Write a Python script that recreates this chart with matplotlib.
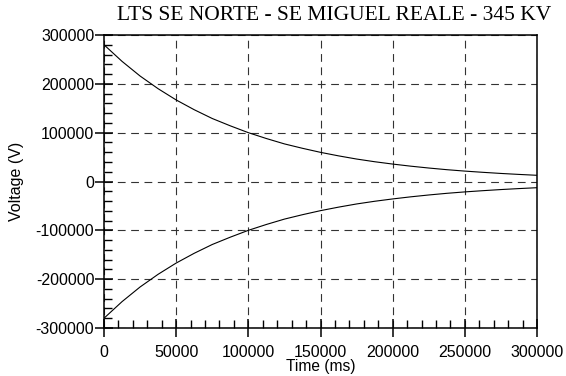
import numpy as np
import matplotlib.pyplot as plt
from matplotlib.ticker import MultipleLocator

# Time samples (ms) and voltage (V)
time_ms = [0, 12500, 25000, 37500, 50000, 62500, 75000, 87500, 100000,
           112500, 125000, 137500, 150000, 162500, 175000, 187500, 200000,
           212500, 225000, 237500, 250000, 262500, 275000, 287500, 300000]
v_upper = [280000, 246000, 216000, 190000, 167000, 147000, 129000, 114000, 100000,
           88000, 77000, 68000, 59700, 52500, 46000, 40500, 35700,
           31400, 27600, 24200, 21300, 18800, 16500, 14500, 12700]
v_lower = [-v for v in v_upper]

title = "LTS SE NORTE - SE MIGUEL REALE - 345 KV"

plt.rcParams['axes.unicode_minus'] = False

fig = plt.figure(figsize=(5.66, 3.76), dpi=100)
fig.patch.set_facecolor('white')
ax = fig.add_axes([104 / 566, 1 - 328 / 376, 433 / 566, 293 / 376])

ax.plot(time_ms, v_upper, color='black', lw=0.8)
ax.plot(time_ms, v_lower, color='black', lw=0.8)

ax.set_xlim(0, 300000)
ax.set_ylim(-300000, 300000)
ax.xaxis.set_major_locator(MultipleLocator(50000))
ax.xaxis.set_minor_locator(MultipleLocator(10000))
ax.yaxis.set_major_locator(MultipleLocator(100000))
ax.yaxis.set_minor_locator(MultipleLocator(20000))

ax.grid(True, which='major', color='#333333', ls=(0, (7, 5)), lw=0.8)

for s in ax.spines.values():
    s.set_linewidth(1.1)

ax.tick_params(which='major', direction='inout', length=13, width=1.1,
               labelsize=11.5)
ax.tick_params(axis='x', which='major', pad=6)
ax.tick_params(axis='y', which='major', pad=0.5)
ax.tick_params(which='minor', direction='in', length=5.5, width=1.0)
ax.tick_params(top=False, right=False, which='both')
for lab in ax.get_xticklabels() + ax.get_yticklabels():
    lab.set_fontfamily('Liberation Sans')

ax.set_xlabel("Time (ms)", fontsize=11.2, family='Liberation Sans')
ax.set_ylabel("Voltage (V)", fontsize=11.5, family='Liberation Sans')
ax.xaxis.set_label_coords((321 - 104) / 433, -(359 - 328) / 293)
ax.yaxis.set_label_coords(-(104 - 24) / 433, 0.5)

fig.text(334 / 566, 1 - 16 / 376, title, ha='center', va='center',
         fontsize=15.5, family='Liberation Serif')

fig.savefig("out.png", dpi=100)
